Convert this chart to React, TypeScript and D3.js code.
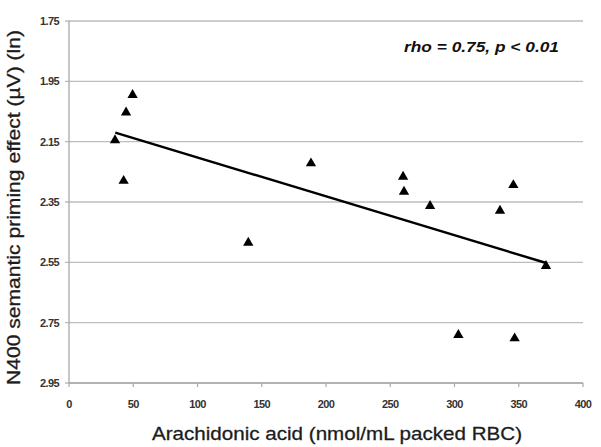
import React from "react";
import * as d3 from "d3";

const acid = [35.8, 44.4, 49.5, 42.5, 139.5, 188.3, 260, 260.7, 281, 335.4, 345.8, 371.2, 303, 346.8];
const n400 = [2.145, 2.053, 1.995, 2.28, 2.485, 2.222, 2.266, 2.316, 2.363, 2.379, 2.294, 2.562, 2.791, 2.802];
const trendX = [36, 372];
const trendY = [2.12, 2.553];
const xTicks = [0, 50, 100, 150, 200, 250, 300, 350, 400];
const yTicks = [1.75, 1.95, 2.15, 2.35, 2.55, 2.75, 2.95];

const W = 601, H = 447;
const L = 69, R = 583, T = 21, B = 383;

export default function App() {
  const x = d3.scaleLinear().domain([0, 400]).range([L, R]);
  const y = d3.scaleLinear().domain([1.75, 2.95]).range([T, B]);
  const tri = d3.symbol().type(d3.symbolTriangle).size(46)();
  const line = d3.line<number>().x((d) => x(d)).y((_, i) => y(trendY[i]))(trendX) || "";
  const font = "Arial, 'Liberation Sans', sans-serif";
  return (
    <svg width={W} height={H} style={{ position: "absolute", left: 0, top: 0, background: "#fff" }} fontFamily={font}>
      {yTicks.map((t) => (
        <g key={t}>
          <line x1={L - 4} x2={R} y1={y(t)} y2={y(t)} stroke="#bdbdbd" strokeWidth={1.3} />
          <text x={59} y={y(t) + 4} textAnchor="end" fontSize={11} fontWeight="bold" fill="#333" letterSpacing={-0.6}>
            {t.toFixed(2)}
          </text>
        </g>
      ))}
      <line x1={L} x2={L} y1={T} y2={B} stroke="#a8a8a8" strokeWidth={1.3} />
      <line x1={L} x2={R} y1={B} y2={B} stroke="#a8a8a8" strokeWidth={1.3} />
      {xTicks.map((t) => (
        <g key={t}>
          <line x1={x(t)} x2={x(t)} y1={B} y2={B + 4} stroke="#a8a8a8" strokeWidth={1.2} />
          <text x={x(t)} y={407.5} textAnchor="middle" fontSize={11} fontWeight="bold" fill="#333" letterSpacing={-0.6}>
            {t}
          </text>
        </g>
      ))}
      <path d={line} stroke="#000" strokeWidth={2.4} fill="none" />
      {acid.map((a, i) => (
        <path key={i} d={tri} transform={`translate(${x(a)},${y(n400[i])})`} fill="#000" />
      ))}
      <text x={404} y={52} fontSize={15.5} fontWeight="bold" fontStyle="italic" fill="#111"
        textLength={155} lengthAdjust="spacingAndGlyphs">
        rho = 0.75, p &lt; 0.01
      </text>
      <text x={152} y={440} fontSize={19} fill="#1c1c1c" stroke="#1c1c1c" strokeWidth={0.3}
        textLength={370} lengthAdjust="spacingAndGlyphs">
        Arachidonic acid (nmol/mL packed RBC)
      </text>
      <text transform={`translate(20,385) rotate(-90)`} fontSize={18} fill="#1c1c1c" stroke="#1c1c1c" strokeWidth={0.3}
        textLength={355} lengthAdjust="spacingAndGlyphs">
        N400 semantic priming effect (µV) (ln)
      </text>
    </svg>
  );
}
